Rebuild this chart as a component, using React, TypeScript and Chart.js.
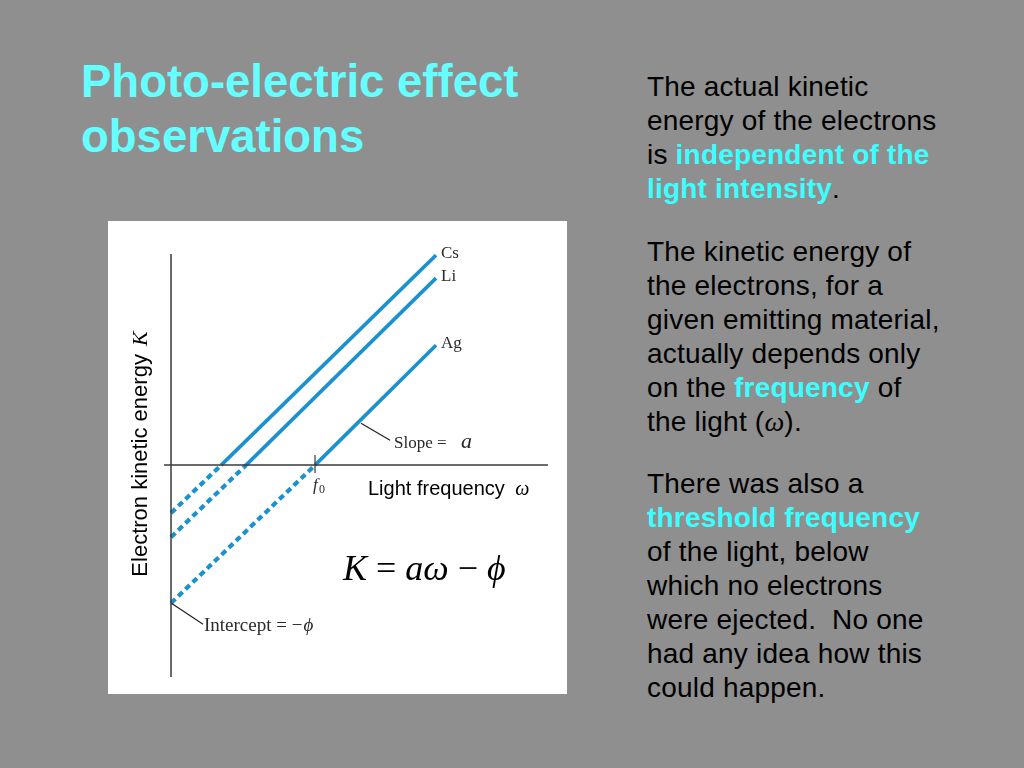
import React, { useEffect, useRef } from 'react';
import { Chart, registerables } from 'chart.js';

Chart.register(...registerables);

// ---- data (arbitrary units) ----
const materials = ['Cs', 'Li', 'Ag'];
const thresholdFrequency = [1.33, 1.99, 3.82];
const endFrequency = [7.03, 7.03, 7.03];
const endEnergy = [5.57, 4.96, 3.18];
const interceptEnergy = [-1.27, -1.91, -3.66];
const xRange = [-0.186, 10];
const yRange = [-5.62, 5.6];
const f0Index = 2;
const slopeLeader = [{ x: 5.04, y: 1.11 }, { x: 5.81, y: 0.66 }];
const interceptLeader = [{ x: 0, y: -3.66 }, { x: 0.85, y: -4.22 }];

const BLUE = '#1B91D0';
const AXIS = '#3a3a3a';
const SANS = '"Liberation Sans", Arial, sans-serif';
const SERIF = '"Liberation Serif", "Times New Roman", serif';
const OX = 108;
const OY = 221;

const annotate = {
  id: 'annotate',
  afterDatasetsDraw(chart: any) {
    const ctx = chart.ctx as CanvasRenderingContext2D;
    const xs = chart.scales.x;
    const ys = chart.scales.y;
    ctx.save();
    ctx.fillStyle = '#2a2a2a';
    ctx.textBaseline = 'middle';
    ctx.textAlign = 'left';
    ctx.font = `17px ${SERIF}`;
    materials.forEach((m, i) => {
      ctx.fillText(m, xs.getPixelForValue(endFrequency[i]) + 5, ys.getPixelForValue(endEnergy[i]) - 2);
    });
    ctx.textBaseline = 'alphabetic';
    // slope label
    ctx.font = `17px ${SERIF}`;
    ctx.fillText('Slope =', 394 - OX, 448 - OY);
    ctx.font = `italic 22px ${SERIF}`;
    ctx.fillText('a', 461 - OX, 448 - OY);
    // f0
    const fx = xs.getPixelForValue(thresholdFrequency[f0Index]);
    ctx.font = `italic 17px ${SERIF}`;
    ctx.fillText('f', fx - 2, 490 - OY);
    ctx.font = `12px ${SERIF}`;
    ctx.fillText('0', fx + 4, 493 - OY);
    // intercept
    ctx.font = `19px ${SERIF}`;
    ctx.fillText('Intercept = \u2212', 204 - OX, 631 - OY);
    const wi = ctx.measureText('Intercept = \u2212').width;
    ctx.font = `italic 19px ${SERIF}`;
    ctx.fillText('\u03d5', 204 - OX + wi + 1, 631 - OY);
    // x-axis title
    ctx.fillStyle = '#000';
    ctx.font = `20px ${SANS}`;
    ctx.fillText('Light frequency ', 368 - OX, 495 - OY);
    const wl = ctx.measureText('Light frequency ').width;
    ctx.font = `italic 20px ${SERIF}`;
    ctx.fillText('\u03c9', 368 - OX + wl + 5, 495 - OY);
    // formula
    const parts: [string, boolean][] = [['K', true], [' = ', false], ['a\u03c9', true], [' \u2212 ', false], ['\u03d5', true]];
    let px = 343 - OX;
    parts.forEach(([t, it]) => {
      ctx.font = `${it ? 'italic ' : ''}36px ${SERIF}`;
      ctx.fillText(t, px, 580 - OY);
      px += ctx.measureText(t).width;
    });
    // y-axis title
    ctx.translate(147 - OX, 455 - OY);
    ctx.rotate(-Math.PI / 2);
    ctx.font = `22px ${SANS}`;
    const w1 = ctx.measureText('Electron kinetic energy ').width;
    ctx.font = `italic 22px ${SERIF}`;
    const w2 = ctx.measureText('K').width;
    const start = -(w1 + w2) / 2;
    ctx.font = `22px ${SANS}`;
    ctx.fillText('Electron kinetic energy ', start, 0);
    ctx.font = `italic 22px ${SERIF}`;
    ctx.fillText('K', start + w1 + 2, 0);
    ctx.restore();
  },
};

function PlotChart() {
  const ref = useRef<HTMLCanvasElement | null>(null);
  useEffect(() => {
    if (!ref.current) return;
    const datasets: any[] = [
      { data: [{ x: xRange[0], y: 0 }, { x: xRange[1], y: 0 }], borderColor: AXIS, borderWidth: 1.5 },
      { data: [{ x: 0, y: yRange[1] }, { x: 0, y: yRange[0] }], borderColor: AXIS, borderWidth: 1.5 },
      { data: [{ x: thresholdFrequency[f0Index], y: 0.27 }, { x: thresholdFrequency[f0Index], y: -0.21 }], borderColor: AXIS, borderWidth: 1.2 },
      { data: slopeLeader, borderColor: '#222', borderWidth: 1.2 },
      { data: interceptLeader, borderColor: '#222', borderWidth: 1.2 },
    ];
    materials.forEach((m, i) => {
      datasets.push({
        label: m,
        data: [{ x: thresholdFrequency[i], y: 0 }, { x: endFrequency[i], y: endEnergy[i] }],
        borderColor: BLUE,
        borderWidth: 3.6,
      });
      datasets.push({
        label: m + ' extrapolated',
        data: [{ x: 0, y: interceptEnergy[i] }, { x: thresholdFrequency[i], y: 0 }],
        borderColor: BLUE,
        borderWidth: 4.2,
        borderDash: [6, 4],
      });
    });
    datasets.forEach((d) => {
      d.showLine = true;
      d.pointRadius = 0;
      d.fill = false;
      d.borderCapStyle = 'butt';
    });
    const chart = new Chart(ref.current, {
      type: 'scatter',
      data: { datasets },
      options: {
        animation: false,
        responsive: false,
        maintainAspectRatio: false,
        layout: { padding: { left: 56, right: 19, top: 33, bottom: 17 } },
        plugins: { legend: { display: false }, tooltip: { enabled: false } },
        scales: {
          x: { type: 'linear', min: xRange[0], max: xRange[1], display: false },
          y: { type: 'linear', min: yRange[0], max: yRange[1], display: false },
        },
      },
      plugins: [annotate],
    });
    return () => chart.destroy();
  }, []);
  return <canvas ref={ref} width={459} height={473} style={{ display: 'block' }} />;
}

const HL: React.CSSProperties = { color: '#3CFFFF', fontWeight: 'bold' };
const OMEGA: React.CSSProperties = { fontFamily: SERIF, fontStyle: 'italic' };

export default function App() {
  const para: React.CSSProperties = { whiteSpace: 'nowrap' };
  return (
    <div style={{ position: 'fixed', left: 0, top: 0, width: 1024, height: 768, background: '#8F8F8F', overflow: 'hidden' }}>
      <div style={{ position: 'absolute', left: 81, top: 54, fontFamily: SANS, fontWeight: 'bold', fontSize: 45.5, lineHeight: '55px', color: '#66FFFF', whiteSpace: 'nowrap' }}>
        Photo-electric effect<br />observations
      </div>
      <div style={{ position: 'absolute', left: OX, top: OY, width: 459, height: 473, background: '#FFFFFF' }}>
        <PlotChart />
      </div>
      <div style={{ position: 'absolute', left: 647, top: 70, fontFamily: SANS, fontSize: 28, letterSpacing: 0.2, lineHeight: '34px', color: '#000' }}>
        <div style={para}>
          The actual kinetic<br />energy of the electrons<br />is <span style={HL}>independent of the</span><br /><span style={HL}>light intensity</span>.
        </div>
        <div style={{ ...para, marginTop: 29 }}>
          The kinetic energy of<br />the electrons, for a<br />given emitting material,<br />actually depends only<br />on the <span style={HL}>frequency</span> of<br />the light (<span style={OMEGA}>ω</span>).
        </div>
        <div style={{ ...para, marginTop: 28 }}>
          There was also a<br /><span style={HL}>threshold frequency</span><br />of the light, below<br />which no electrons<br />were ejected.&nbsp; No one<br />had any idea how this<br />could happen.
        </div>
      </div>
    </div>
  );
}
